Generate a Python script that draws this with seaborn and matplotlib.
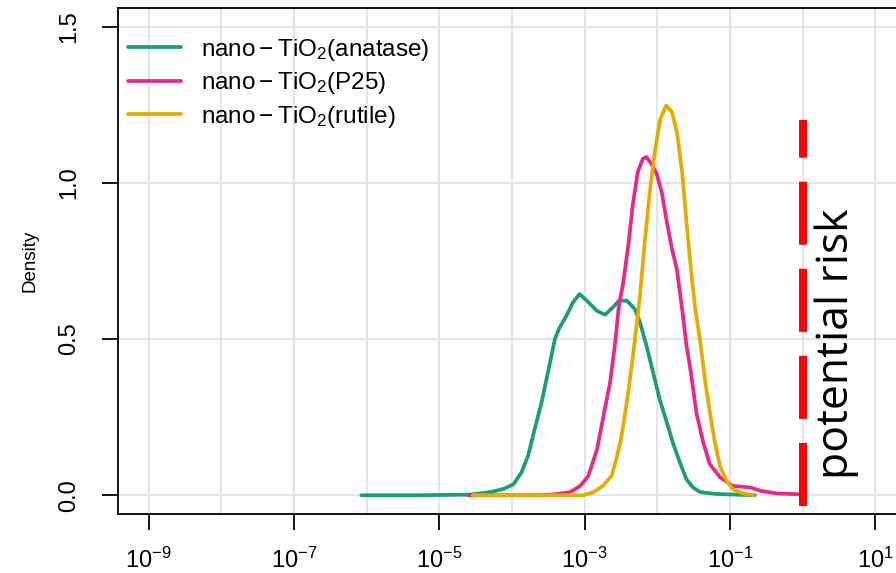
import numpy as np
import pandas as pd
import matplotlib
matplotlib.use("Agg")
import matplotlib.pyplot as plt
import seaborn as sns
from matplotlib.ticker import FixedLocator, NullFormatter

# Density curves (x as log10 of concentration)
anatase_log = [-6.07, -5.27, -4.58, -4.30, -4.12, -3.98, -3.87, -3.78, -3.69, -3.59, -3.50,
               -3.41, -3.35, -3.25, -3.16, -3.07, -2.97, -2.83, -2.72, -2.61, -2.53, -2.42,
               -2.31, -2.24, -2.15, -2.06, -1.97, -1.87, -1.79, -1.69, -1.60, -1.51, -1.41,
               -1.18, -0.66]
anatase_dens = [0.0, 0.0, 0.002, 0.01, 0.02, 0.035, 0.073, 0.126, 0.21, 0.30, 0.40,
                0.50, 0.535, 0.575, 0.618, 0.644, 0.623, 0.59, 0.578, 0.602, 0.623, 0.623,
                0.596, 0.554, 0.479, 0.394, 0.308, 0.233, 0.17, 0.105, 0.051, 0.025, 0.01,
                0.004, 0.0]

p25_log = [-4.60, -3.61, -3.41, -3.20, -3.06, -2.95, -2.83, -2.75, -2.65, -2.58, -2.53,
           -2.47, -2.40, -2.34, -2.27, -2.20, -2.15, -2.08, -2.01, -1.94, -1.87, -1.80,
           -1.73, -1.66, -1.60, -1.55, -1.46, -1.37, -1.28, -1.14, -0.97, -0.72, -0.58,
           -0.36, -0.04]
p25_dens = [0.0, 0.0, 0.003, 0.01, 0.03, 0.062, 0.147, 0.244, 0.362, 0.49, 0.607,
            0.68, 0.80, 0.927, 1.035, 1.077, 1.083, 1.06, 1.03, 0.97, 0.875, 0.79,
            0.72, 0.596, 0.48, 0.41, 0.26, 0.17, 0.10, 0.058, 0.03, 0.025, 0.014,
            0.006, 0.003]

rutile_log = [-4.54, -3.02, -2.88, -2.75, -2.63, -2.56, -2.51, -2.47, -2.40, -2.33, -2.27,
              -2.24, -2.17, -2.10, -2.03, -1.96, -1.88, -1.80, -1.73, -1.66, -1.60, -1.53,
              -1.48, -1.41, -1.34, -1.27, -1.21, -1.14, -1.05, -0.96, -0.82, -0.68]
rutile_dens = [0.0, 0.0, 0.01, 0.03, 0.062, 0.12, 0.17, 0.222, 0.33, 0.458, 0.575,
               0.639, 0.82, 0.98, 1.109, 1.205, 1.248, 1.227, 1.162, 1.035, 0.875, 0.703,
               0.60, 0.49, 0.362, 0.254, 0.17, 0.094, 0.046, 0.019, 0.006, 0.0]

labels = [r"$\mathrm{nano}-\mathrm{TiO}_2\mathrm{(anatase)}$",
          r"$\mathrm{nano}-\mathrm{TiO}_2\mathrm{(P25)}$",
          r"$\mathrm{nano}-\mathrm{TiO}_2\mathrm{(rutile)}$"]
colors = ["#1B9E77", "#E7298A", "#E6AB02"]

x_major_exp = [-9, -7, -5, -3, -1, 1]
x_minor_exp = [-8, -6, -4, -2, 0]
y_ticks = [0.0, 0.5, 1.0, 1.5]

risk_x = 1.0
risk_ymin, risk_ymax = -0.035, 1.2
risk_text_x, risk_text_y = 2.97, 0.484

# long-form table for seaborn
frames = []
for lab, lx, dy in zip(labels, [anatase_log, p25_log, rutile_log],
                       [anatase_dens, p25_dens, rutile_dens]):
    frames.append(pd.DataFrame({"conc": 10.0 ** np.array(lx), "density": dy, "material": lab}))
df = pd.concat(frames, ignore_index=True)

sns.set_style("white")
plt.rcParams["font.family"] = ["Liberation Sans", "DejaVu Sans"]
plt.rcParams["mathtext.fontset"] = "custom"
plt.rcParams["mathtext.rm"] = "Liberation Sans"
plt.rcParams["mathtext.it"] = "Liberation Sans:italic"
plt.rcParams["mathtext.bf"] = "Liberation Sans:bold"
plt.rcParams["lines.scale_dashes"] = False
plt.rcParams["text.color"] = "black"
plt.rcParams["axes.labelcolor"] = "black"
plt.rcParams["xtick.color"] = "black"
plt.rcParams["ytick.color"] = "black"

fig = plt.figure(figsize=(8.96, 5.73), dpi=100)
ax = fig.add_axes([118 / 896, 59 / 573, 788 / 896, 506 / 573])

sns.lineplot(data=df, x="conc", y="density", hue="material", palette=colors,
             sort=False, linewidth=2.7, ax=ax, zorder=3)

ax.plot([risk_x, risk_x], [risk_ymin, risk_ymax], color="#FF0000", linewidth=5.8,
        dashes=(45.4, 17.3), solid_capstyle="butt", dash_capstyle="butt", zorder=4)
ax.text(risk_text_x, risk_text_y, "potential risk", rotation=90, ha="center", va="center",
        fontsize=32, family=["Open Sans", "DejaVu Sans"], color="black", zorder=5)

ax.set_xscale("log")
ax.set_xlim(10 ** -9.42, 10 ** 1.42)
ax.set_ylim(-0.06, 1.56)
ax.xaxis.set_major_locator(FixedLocator([10.0 ** e for e in x_major_exp]))
ax.xaxis.set_minor_locator(FixedLocator([10.0 ** e for e in x_minor_exp]))
ax.xaxis.set_minor_formatter(NullFormatter())
ax.set_xticklabels([r"$\mathdefault{10^{%d}}$" % e for e in x_major_exp])
ax.set_yticks(y_ticks)
ax.set_yticklabels(["%.1f" % v for v in y_ticks])

ax.grid(True, which="both", color="#E5E5E5", linewidth=1.4, zorder=0)
ax.set_axisbelow(True)
for sp in ax.spines.values():
    sp.set_color("black")
    sp.set_linewidth(1.3)

ax.tick_params(axis="x", which="major", length=11.5, width=1.3, pad=13, labelsize=17,
               direction="out", bottom=True, colors="black")
ax.tick_params(axis="x", which="minor", length=0)
ax.tick_params(axis="y", which="major", length=11.5, width=1.3, pad=16, labelsize=17,
               direction="out", left=True, labelrotation=90, colors="black")
for lab in ax.get_yticklabels():
    lab.set_va("center")

ax.set_xlabel("")
ax.set_ylabel("Density", fontsize=13.5, labelpad=14, color="black")

ax.legend(loc="upper left", bbox_to_anchor=(0.0, 0.962), frameon=False, fontsize=17.5,
          handlelength=2.2, handletextpad=0.8, labelspacing=0.3, borderaxespad=0.4,
          borderpad=0.0)

fig.savefig("out.png", dpi=100)
